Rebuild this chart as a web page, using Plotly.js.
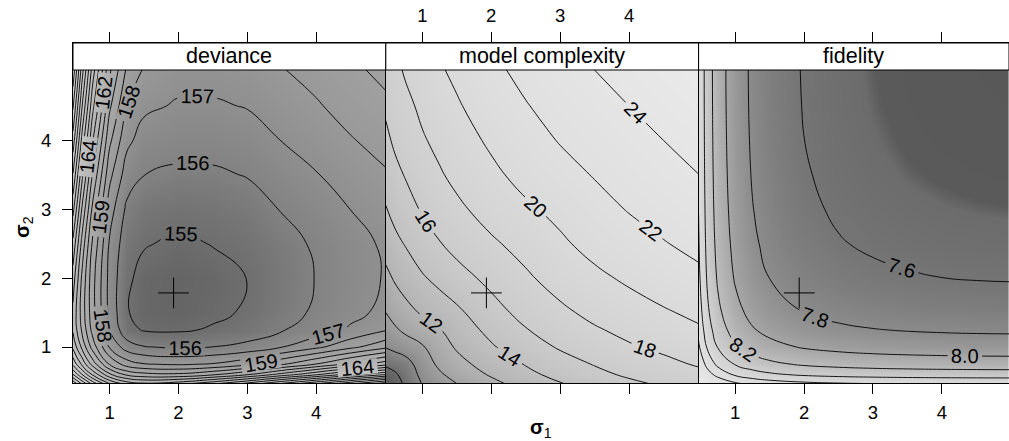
<!DOCTYPE html>
<html><head><meta charset="utf-8">
<script src="https://cdn.plot.ly/plotly-3.0.1.min.js"></script>
<style>html,body{margin:0;padding:0;background:#fff}#chart{width:1009px;height:441px}</style>
</head><body><div id="chart"></div>
<script>
// grid of sigma values (both axes)
const sigma = [0.47, 0.6, 0.75, 1, 1.25, 1.5, 2, 2.5, 3, 3.5, 4, 4.5, 5.02];
const panelTitles = ['deviance', 'model complexity', 'fidelity'];
const tickVals = [1, 2, 3, 4];
const optS1 = [1.93];
const optS2 = [1.785];

// rows: sigma2 (bottom -> top), columns: sigma1 (left -> right)
const deviance = [
  [171.79, 169.81, 167.67, 164.96, 163.55, 163.11, 163.55, 164.73, 166.24, 168.08, 169.88, 171.75, 173.60],
  [169.04, 167.06, 164.92, 162.21, 160.80, 160.34, 160.22, 160.86, 161.93, 163.39, 164.87, 166.45, 168.02],
  [166.77, 164.79, 162.65, 159.94, 158.53, 158.07, 157.89, 158.09, 158.75, 159.87, 161.05, 162.37, 163.70],
  [164.75, 162.77, 160.63, 157.92, 156.51, 156.05, 155.87, 156.01, 156.29, 156.97, 157.77, 158.74, 159.76],
  [163.85, 161.85, 159.71, 157.00, 155.30, 154.92, 154.88, 155.09, 155.37, 155.92, 156.44, 157.15, 157.93],
  [163.78, 161.58, 159.44, 156.73, 155.05, 154.74, 154.62, 154.82, 155.10, 155.65, 156.14, 156.70, 157.28],
  [164.53, 161.83, 159.41, 156.68, 155.15, 154.75, 154.63, 154.75, 155.01, 155.55, 156.03, 156.58, 157.08],
  [165.75, 162.68, 159.91, 156.89, 155.40, 155.06, 154.86, 155.03, 155.20, 155.67, 156.13, 156.66, 157.15],
  [167.30, 163.91, 160.85, 157.47, 155.81, 155.42, 155.28, 155.34, 155.55, 156.05, 156.49, 157.01, 157.48],
  [168.94, 165.29, 161.99, 158.29, 156.52, 156.01, 155.82, 155.85, 156.05, 156.52, 156.95, 157.45, 157.91],
  [170.57, 166.70, 163.19, 159.23, 157.25, 156.57, 156.37, 156.38, 156.56, 157.02, 157.43, 157.93, 158.38],
  [172.17, 168.09, 164.40, 160.20, 158.03, 157.21, 156.89, 156.89, 157.05, 157.50, 157.90, 158.39, 158.83],
  [173.73, 169.47, 165.60, 161.18, 158.85, 157.89, 157.38, 157.36, 157.51, 157.95, 158.34, 158.81, 159.25]
];

const complexity = [
  [4.2, 5.1, 6.3, 8.1, 9.1, 10.0, 11.5, 12.8, 13.9, 14.8, 15.6, 16.3, 16.9],
  [5.1, 5.7, 6.7, 8.5, 9.7, 10.8, 12.2, 13.5, 14.6, 15.5, 16.3, 16.9, 17.5],
  [6.3, 6.7, 7.2, 8.9, 10.4, 11.4, 12.8, 14.1, 15.2, 16.1, 16.9, 17.5, 18.2],
  [8.1, 8.5, 8.9, 9.8, 11.2, 12.2, 13.8, 15.1, 16.2, 17.0, 17.8, 18.4, 19.0],
  [9.1, 9.7, 10.4, 11.2, 11.9, 13.0, 14.5, 15.9, 17.0, 17.8, 18.5, 19.2, 19.8],
  [10.0, 10.8, 11.4, 12.2, 13.0, 13.6, 15.3, 16.6, 17.6, 18.5, 19.2, 19.8, 20.4],
  [11.5, 12.2, 12.8, 13.8, 14.5, 15.3, 16.5, 17.7, 18.8, 19.6, 20.3, 21.0, 21.6],
  [12.8, 13.5, 14.1, 15.1, 15.9, 16.6, 17.7, 18.7, 19.7, 20.6, 21.3, 21.9, 22.5],
  [13.9, 14.6, 15.2, 16.2, 17.0, 17.6, 18.8, 19.7, 20.5, 21.4, 22.1, 22.7, 23.3],
  [14.8, 15.5, 16.1, 17.0, 17.8, 18.5, 19.6, 20.6, 21.4, 22.1, 22.8, 23.4, 24.0],
  [15.6, 16.3, 16.9, 17.8, 18.5, 19.2, 20.3, 21.3, 22.1, 22.8, 23.4, 24.0, 24.6],
  [16.3, 16.9, 17.5, 18.4, 19.2, 19.8, 21.0, 21.9, 22.7, 23.4, 24.0, 24.6, 25.2],
  [16.9, 17.5, 18.2, 19.0, 19.8, 20.4, 21.6, 22.5, 23.3, 24.0, 24.6, 25.2, 25.7]
];

const fidelity = [
  [9.357, 9.129, 8.973, 8.828, 8.748, 8.699, 8.643, 8.614, 8.597, 8.587, 8.580, 8.576, 8.574],
  [9.129, 8.891, 8.726, 8.571, 8.485, 8.432, 8.371, 8.339, 8.321, 8.309, 8.302, 8.297, 8.295],
  [8.973, 8.726, 8.554, 8.390, 8.299, 8.241, 8.176, 8.142, 8.121, 8.109, 8.101, 8.096, 8.093],
  [8.828, 8.571, 8.390, 8.217, 8.118, 8.056, 7.984, 7.946, 7.923, 7.909, 7.900, 7.894, 7.892],
  [8.748, 8.485, 8.299, 8.118, 8.015, 7.949, 7.872, 7.830, 7.806, 7.790, 7.780, 7.774, 7.771],
  [8.699, 8.432, 8.241, 8.056, 7.949, 7.880, 7.799, 7.754, 7.728, 7.711, 7.700, 7.694, 7.690],
  [8.643, 8.371, 8.176, 7.984, 7.872, 7.799, 7.711, 7.662, 7.633, 7.614, 7.601, 7.593, 7.589],
  [8.614, 8.339, 8.142, 7.946, 7.830, 7.754, 7.662, 7.610, 7.578, 7.556, 7.542, 7.533, 7.529],
  [8.597, 8.321, 8.121, 7.923, 7.806, 7.728, 7.633, 7.578, 7.543, 7.519, 7.504, 7.494, 7.488],
  [8.587, 8.309, 8.109, 7.909, 7.790, 7.711, 7.614, 7.556, 7.519, 7.494, 7.477, 7.466, 7.459],
  [8.580, 8.302, 8.101, 7.900, 7.780, 7.700, 7.601, 7.542, 7.504, 7.477, 7.458, 7.445, 7.438],
  [8.576, 8.297, 8.096, 7.894, 7.774, 7.694, 7.593, 7.533, 7.494, 7.466, 7.445, 7.430, 7.421],
  [8.574, 8.295, 8.093, 7.892, 7.771, 7.690, 7.589, 7.529, 7.488, 7.459, 7.438, 7.421, 7.407]
];

// contour level settings per panel
const contourStart = [155, 6, 7.6];
const contourEnd = [175, 26, 8.8];
const contourStep = [1, 2, 0.2];
const labelFormats = ['.0f', '.0f', '.1f'];

function grey(v) { return 'rgb(' + v + ',' + v + ',' + v + ')'; }
const scales = [
  { zmin: 154.5, zmax: 174, cs: [[0, grey(98)], [0.0256, grey(110)], [0.0769, grey(130)], [0.1282, grey(143)], [0.1795, grey(153)], [0.2821, grey(167)], [0.4359, grey(182)], [0.641, grey(196)], [1, grey(212)]] },
  { zmin: 4, zmax: 26, cs: [[0, grey(85)], [0.0909, grey(108)], [0.1818, grey(138)], [0.2727, grey(162)], [0.3636, grey(180)], [0.4545, grey(193)], [0.5455, grey(203)], [0.6364, grey(211)], [0.7273, grey(218)], [0.8182, grey(224)], [0.9091, grey(229)], [1, grey(234)]] },
  { zmin: 7.4, zmax: 9.4, cs: [[0, grey(88)], [0.0425, grey(90)], [0.05, grey(108)], [0.1, grey(117)], [0.15, grey(128)], [0.2, grey(140)], [0.25, grey(153)], [0.3, grey(166)], [0.4, grey(190)], [0.5, grey(208)], [0.6, grey(220)], [1, grey(236)]] }
];

const W = 1009, H = 441;
const FONT = 'Liberation Sans, Arial, Helvetica, sans-serif';
const pxPerUnit = 68.9;
const panelPx = [[73, 385.8], [385.8, 698.6], [698.6, 1009]];
const plotTop = 43, stripBottom = 70, plotBottom = 383;
const yDomain = [(H - plotBottom) / H, (H - plotTop) / H];
const yStart = 0.4775;
const yRange = [yStart, yStart + (plotBottom - plotTop) / pxPerUnit];
const xStart = 0.47;

const zs = [deviance, complexity, fidelity];
const traces = [];
const layout = {
  width: W, height: H,
  margin: { l: 0, r: 0, t: 0, b: 0 },
  paper_bgcolor: '#fff', plot_bgcolor: '#fff',
  showlegend: false,
  font: { family: FONT, color: '#000' },
  shapes: [], annotations: []
};

for (let i = 0; i < 3; i++) {
  const xa = i === 0 ? 'x' : 'x' + (i + 1);
  const ya = i === 0 ? 'y' : 'y' + (i + 1);
  const [a, b] = panelPx[i];
  layout[i === 0 ? 'xaxis' : 'xaxis' + (i + 1)] = {
    domain: [a / W, b / W], range: [xStart, xStart + (b - a) / pxPerUnit], anchor: ya,
    tickmode: 'array', tickvals: tickVals, ticks: 'outside', ticklen: 10, tickwidth: 1, tickcolor: '#000',
    side: i === 1 ? 'top' : 'bottom', mirror: 'ticks', showline: true, linecolor: '#000', linewidth: 1,
    showgrid: false, zeroline: false, tickfont: { size: 18.5, color: '#000', family: FONT },
    ticklabelstandoff: 3, fixedrange: true
  };
  layout[i === 0 ? 'yaxis' : 'yaxis' + (i + 1)] = {
    domain: yDomain, range: yRange, anchor: xa,
    tickmode: 'array', tickvals: tickVals, ticks: i === 0 ? 'outside' : '', ticklen: 10, tickwidth: 1, tickcolor: '#000',
    showticklabels: i === 0, showline: true, mirror: true, linecolor: '#000', linewidth: 1,
    showgrid: false, zeroline: false, tickfont: { size: 18.5, color: '#000', family: FONT },
    ticklabelstandoff: 7, fixedrange: true
  };
  traces.push({
    type: 'heatmap', x: sigma, y: sigma, z: zs[i], xaxis: xa, yaxis: ya,
    colorscale: scales[i].cs, zmin: scales[i].zmin, zmax: scales[i].zmax,
    zsmooth: 'best', showscale: false, hoverinfo: 'skip'
  });
  traces.push({
    type: 'contour', x: sigma, y: sigma, z: zs[i], xaxis: xa, yaxis: ya,
    autocontour: false,
    contours: { coloring: 'none', start: contourStart[i], end: contourEnd[i], size: contourStep[i],
      showlabels: true, labelformat: labelFormats[i], labelfont: { size: 20, color: '#000', family: FONT } },
    line: { color: '#000', width: 0.9, smoothing: 1.3 },
    showscale: false, hoverinfo: 'skip'
  });
  traces.push({
    type: 'scatter', mode: 'markers', x: optS1, y: optS2, xaxis: xa, yaxis: ya,
    marker: { symbol: 'cross-thin-open', size: 22, color: '#000', line: { width: 1, color: '#000' } },
    hoverinfo: 'skip'
  });
  // strip
  layout.shapes.push({
    type: 'rect', xref: xa + ' domain', yref: 'paper', x0: 0, x1: 1,
    y0: (H - stripBottom) / H, y1: (H - plotTop) / H,
    fillcolor: '#fff', line: { color: '#000', width: 1 }, layer: 'above'
  });
  layout.annotations.push({
    xref: xa + ' domain', yref: 'paper', x: 0.5, y: (H - (plotTop + stripBottom) / 2) / H,
    xanchor: 'center', yanchor: 'middle', showarrow: false,
    text: panelTitles[i], font: { size: 21.5, color: '#000', family: FONT }
  });
}

layout.annotations.push({
  xref: 'paper', yref: 'paper', x: 541 / W, y: (H - 428) / H, xanchor: 'center', yanchor: 'middle',
  showarrow: false, text: '<b>σ</b><sub>1</sub>', font: { size: 20, color: '#000', family: FONT }
});
layout.annotations.push({
  xref: 'paper', yref: 'paper', x: 23 / W, y: (H - 227) / H, xanchor: 'center', yanchor: 'middle',
  showarrow: false, textangle: -90, text: '<b>σ</b><sub>2</sub>', font: { size: 20, color: '#000', family: FONT }
});

Plotly.newPlot('chart', traces, layout, { staticPlot: true, displayModeBar: false });
</script>
</body></html>
